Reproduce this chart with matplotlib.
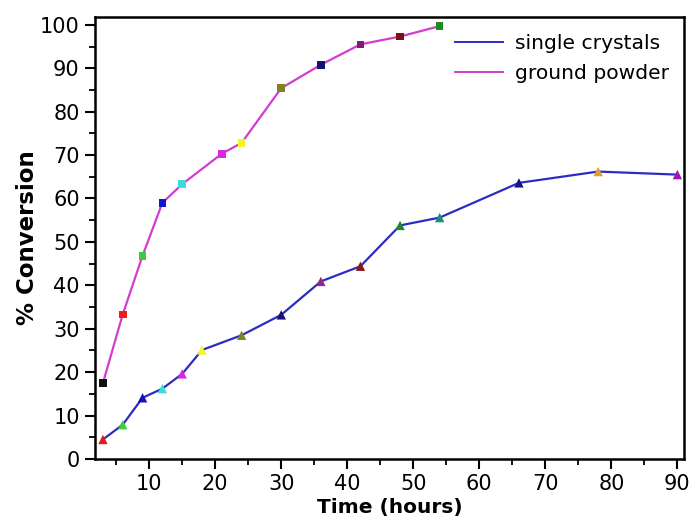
import matplotlib
matplotlib.use("Agg")
import matplotlib.pyplot as plt
from matplotlib.ticker import MultipleLocator
from matplotlib.lines import Line2D

# Conversion kinetics: single crystals vs ground powder
single_hours = [3, 6, 9, 12, 15, 18, 24, 30, 36, 42, 48, 54, 66, 78, 90]
single_conv = [4.5, 7.9, 14.1, 16.2, 19.6, 25.1, 28.5, 33.2, 40.9, 44.4, 53.8, 55.6, 63.6, 66.2, 65.5]

powder_hours = [3, 6, 9, 12, 15, 21, 24, 30, 36, 42, 48, 54]
powder_conv = [17.5, 33.3, 46.8, 59.0, 63.3, 70.3, 72.8, 85.4, 90.8, 95.5, 97.3, 99.7]

series_labels = ["single crystals", "ground powder"]

# per-point marker colours (Origin-style cycle)
powder_marker_colors = ["#111111", "#ee1c1c", "#3ccc3c", "#1414c8", "#3cdcdc", "#dc28dc",
                        "#f4f428", "#828222", "#141470", "#7a1e78", "#7a1212", "#1e8c1e"]
single_marker_colors = ["#e01c1c", "#3ccc3c", "#1414b8", "#3cdcdc", "#dc28dc", "#f4f428",
                        "#828222", "#141478", "#8a2a8a", "#8a1a12", "#1e8c2a", "#1e8c7a",
                        "#14148c", "#e0a030", "#9a1ab4"]

single_line_color = "#2c2cc4"
powder_line_color = "#d23cd2"

fig = plt.figure(figsize=(6.92, 5.2), dpi=100)
ax = fig.add_axes([95 / 692, 1 - 459 / 520, (684 - 95) / 692, (459 - 17) / 520])

ax.plot(single_hours, single_conv, color=single_line_color, lw=1.6, zorder=2)
ax.plot(powder_hours, powder_conv, color=powder_line_color, lw=1.6, zorder=2)
ax.scatter(single_hours, single_conv, marker="^", s=46, c=single_marker_colors,
           edgecolors="none", zorder=3, clip_on=False)
ax.scatter(powder_hours, powder_conv, marker="s", s=30, c=powder_marker_colors,
           edgecolors="none", zorder=3, clip_on=False)

ax.set_xlim(1.8, 91)
ax.set_ylim(0, 101.8)
ax.xaxis.set_major_locator(MultipleLocator(10))
ax.xaxis.set_minor_locator(MultipleLocator(5))
ax.yaxis.set_major_locator(MultipleLocator(10))
ax.yaxis.set_minor_locator(MultipleLocator(5))
ax.set_xticks([10, 20, 30, 40, 50, 60, 70, 80, 90])

for s in ax.spines.values():
    s.set_linewidth(1.8)
ax.tick_params(which="major", direction="out", length=7, width=1.5, labelsize=15, pad=4,
               top=False, right=False)
ax.tick_params(which="minor", direction="out", length=4.5, width=1.3, top=False, right=False)

ax.set_xlabel("Time (hours)", fontsize=14.5, fontweight="bold", labelpad=3)
ax.set_ylabel("% Conversion", fontsize=16.5, fontweight="bold", labelpad=1)

handles = [Line2D([], [], color=single_line_color, lw=1.4),
           Line2D([], [], color=powder_line_color, lw=1.4)]
ax.legend(handles, series_labels, loc="upper left", bbox_to_anchor=(0.611, 0.962),
          frameon=False, fontsize=14.6, handlelength=2.35, handletextpad=0.6,
          labelspacing=0.55, borderpad=0, borderaxespad=0)

fig.savefig("out.png", dpi=100)
